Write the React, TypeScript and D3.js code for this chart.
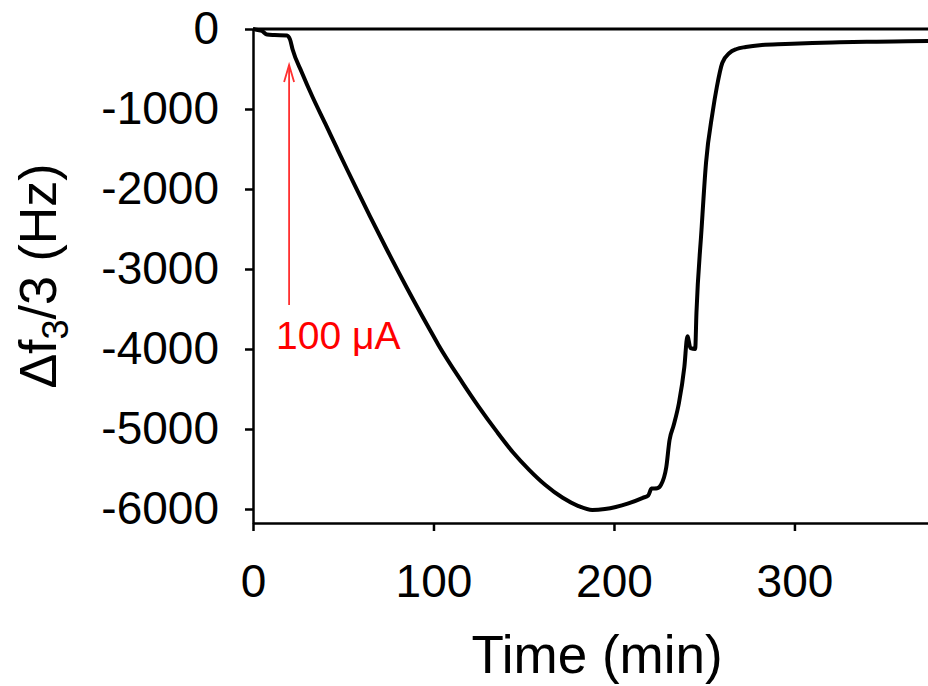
import React, { useEffect, useRef } from 'react';
import * as d3 from 'd3';

// time in minutes, frequency shift in Hz
const time = [
  0, 2.8, 5, 7.8, 12, 18.8, 20.5, 22, 27, 33, 40, 46.5, 52, 57.5, 64.7, 74, 85, 98, 102.5,
  116, 125, 135, 144, 153, 162, 171.6, 180, 188, 195, 201, 208, 216, 219, 220.8, 224, 226,
  229, 230.8, 233, 236, 239, 240.7, 242.4, 245, 245.7, 248.5, 251, 254.6, 257, 260, 264,
  268, 273, 282, 295, 310, 325, 340, 355, 374,
];
const deltaF = [
  0, -12, -25, -70, -75, -80, -130, -260, -540, -850, -1180, -1490, -1750, -2005, -2335,
  -2750, -3225, -3760, -3940, -4420, -4720, -5030, -5290, -5510, -5700, -5860, -5960,
  -6012, -6000, -5975, -5930, -5860, -5830, -5745, -5740, -5700, -5475, -5137, -4960,
  -4675, -4225, -3840, -3990, -4000, -3550, -2512, -1675, -1050, -725, -425, -300, -250,
  -225, -200, -188, -175, -167, -160, -155, -150,
];

const xTicks = [0, 100, 200, 300];
const yTicks = [0, -1000, -2000, -3000, -4000, -5000, -6000];

// current step marker
const stepTime = 20;
const stepLabel = '100 μA';

const FONT = '"Liberation Sans", Arial, sans-serif';

const App = () => {
  const ref = useRef<SVGSVGElement | null>(null);

  useEffect(() => {
    const svg = d3.select(ref.current);
    svg.selectAll('*').remove();

    const x = d3.scaleLinear().domain([0, 374]).range([253, 928]);
    const y = d3.scaleLinear().domain([-6175, 0]).range([523, 29]);

    // zero line
    svg.append('line')
      .attr('x1', x(0)).attr('x2', x(374))
      .attr('y1', y(0)).attr('y2', y(0))
      .attr('stroke', '#000').attr('stroke-width', 3);

    const yAxis = svg.append('g')
      .attr('transform', `translate(${x(0)},0)`)
      .call(d3.axisLeft(y).tickValues(yTicks).tickSize(8).tickSizeOuter(0)
        .tickPadding(26).tickFormat(d => String(d)));

    const xAxis = svg.append('g')
      .attr('transform', `translate(0,${y(-6175)})`)
      .call(d3.axisBottom(x).tickValues(xTicks).tickSize(8).tickSizeOuter(0)
        .tickPadding(33).tickFormat(d => String(d)));

    [yAxis, xAxis].forEach(g => {
      g.select('.domain').attr('stroke', '#000').attr('stroke-width', 2.5);
      g.selectAll('.tick line').attr('stroke', '#000').attr('stroke-width', 2.5);
      g.selectAll('.tick text')
        .attr('fill', '#000')
        .style('font-family', FONT)
        .style('font-size', '46px');
    });

    const line = d3.line<number>()
      .x((_, i) => x(time[i]))
      .y(d => y(d))
      .curve(d3.curveMonotoneX);

    svg.append('path')
      .datum(deltaF)
      .attr('fill', 'none')
      .attr('stroke', '#000')
      .attr('stroke-width', 4)
      .attr('stroke-linejoin', 'round')
      .attr('d', line);

    // red arrow + label
    const ax = x(stepTime);
    svg.append('line')
      .attr('x1', ax).attr('x2', ax)
      .attr('y1', y(-3450)).attr('y2', y(-450))
      .attr('stroke', '#ff3030').attr('stroke-width', 1.8);
    svg.append('path')
      .attr('d', `M${ax - 5},${y(-450) + 17}L${ax},${y(-450)}L${ax + 5},${y(-450) + 17}`)
      .attr('fill', 'none')
      .attr('stroke', '#ff3030').attr('stroke-width', 1.8);
    svg.append('text')
      .attr('x', 276).attr('y', 349)
      .attr('fill', '#ff0000')
      .style('font-family', FONT)
      .style('font-size', '39px')
      .text(stepLabel);

    // axis titles
    svg.append('text')
      .attr('x', 597).attr('y', 673)
      .attr('text-anchor', 'middle')
      .style('font-family', FONT)
      .style('font-size', '53px')
      .text('Time (min)');

    const yt = svg.append('text')
      .attr('transform', 'translate(56,276) rotate(-90)')
      .attr('text-anchor', 'middle')
      .style('font-family', FONT)
      .style('font-size', '52px');
    yt.append('tspan').text('Δf');
    yt.append('tspan').attr('dy', 12).style('font-size', '36px').text('3');
    yt.append('tspan').attr('dy', -12).text('/3 (Hz)');
  }, []);

  return (
    <svg
      ref={ref}
      width={928}
      height={686}
      style={{ position: 'absolute', left: 0, top: 0, background: '#fff' }}
    />
  );
};

export default App;
